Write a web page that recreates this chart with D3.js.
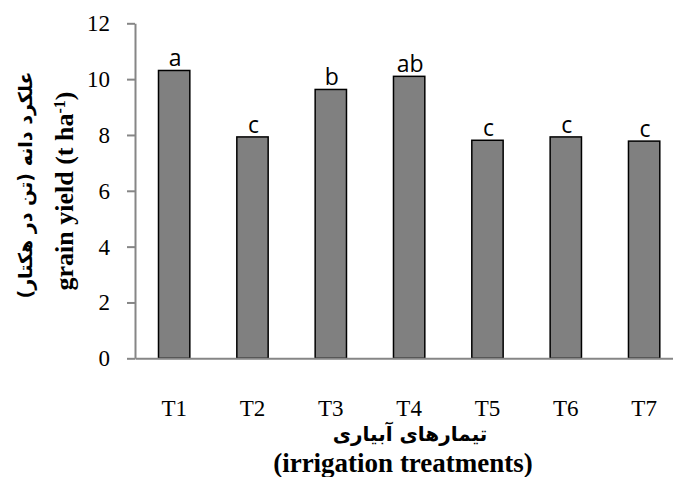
<!DOCTYPE html>
<html>
<head>
<meta charset="utf-8">
<script src="https://cdn.jsdelivr.net/npm/d3@7"></script>
<style>
  html, body { margin: 0; padding: 0; background: #fff; }
  svg { display: block; }
</style>
</head>
<body>
<svg id="chart" width="673" height="477"></svg>
<script>
// Grain yield per irrigation treatment (t/ha) with mean-separation letters
const treatments = ["T1", "T2", "T3", "T4", "T5", "T6", "T7"];
const grainYield = [10.31, 7.93, 9.63, 10.10, 7.81, 7.93, 7.78];
const groupLetters = ["a", "c", "b", "ab", "c", "c", "c"];
const yTicks = [0, 2, 4, 6, 8, 10, 12];

const svg = d3.select("#chart");
const W = 673, H = 477;

const x = d3.scaleBand()
  .domain(treatments)
  .range([135, 683.3])
  .paddingInner(0.6)
  .paddingOuter(0.3);

const y = d3.scaleLinear()
  .domain([0, 12])
  .range([358.3, 23.3]);

const axisGrey = "#868686";
const serif = "'Liberation Serif', 'Times New Roman', serif";

// y axis
const yAxis = svg.append("g")
  .attr("transform", "translate(135,0)")
  .call(d3.axisLeft(y).tickValues(yTicks).tickSize(8).tickSizeOuter(0).tickPadding(17)
    .tickFormat(d3.format("d")));
yAxis.selectAll("path, line").attr("stroke", axisGrey).attr("stroke-width", 2);
yAxis.selectAll("text")
  .attr("fill", "#000")
  .style("font-family", serif)
  .style("font-size", "23px");

// bars
svg.append("g").selectAll("rect")
  .data(treatments)
  .join("rect")
  .attr("x", d => x(d))
  .attr("width", x.bandwidth())
  .attr("y", (d, i) => y(grainYield[i]))
  .attr("height", (d, i) => y(0) - y(grainYield[i]))
  .attr("fill", "#808080")
  .attr("stroke", "#000")
  .attr("stroke-width", 1.5);

// x axis (drawn over the bar bases)
const xAxis = svg.append("g")
  .attr("transform", `translate(0,${y(0)})`)
  .call(d3.axisBottom(x).tickSize(0).tickSizeOuter(0).tickPadding(41));
xAxis.select("path.domain").attr("stroke", axisGrey).attr("stroke-width", 2);
xAxis.selectAll("text")
  .attr("fill", "#000")
  .style("font-family", serif)
  .style("font-size", "23px");

// significance letters above bars
svg.append("g").selectAll("text")
  .data(treatments)
  .join("text")
  .attr("x", d => x(d) + x.bandwidth() / 2 + 1)
  .attr("y", (d, i) => y(grainYield[i]) - 4)
  .attr("text-anchor", "middle")
  .style("font-family", "'Open Sans', 'Liberation Sans', sans-serif")
  .style("font-size", "23px")
  .attr("fill", "#000")
  .text((d, i) => groupLetters[i]);

// y axis titles (Persian and English)
svg.append("text")
  .attr("transform", "translate(32,185) rotate(-90)")
  .attr("text-anchor", "middle")
  .attr("direction", "rtl")
  .style("font-family", "'DejaVu Sans', sans-serif")
  .style("font-weight", "bold")
  .style("font-size", "19px")
  .text("علکرد دانه (تن در هکتار)");

const yTitle = svg.append("text")
  .attr("transform", "translate(73,191) rotate(-90)")
  .attr("text-anchor", "middle")
  .style("font-family", serif)
  .style("font-weight", "bold")
  .style("font-size", "26px");
yTitle.append("tspan").text("grain yield (t ha");
yTitle.append("tspan").attr("baseline-shift", "super").style("font-size", "16px").text("-1");
yTitle.append("tspan").text(")");

// x axis titles
svg.append("text")
  .attr("x", 410)
  .attr("y", 441)
  .attr("text-anchor", "middle")
  .attr("direction", "rtl")
  .style("font-family", "'DejaVu Sans', sans-serif")
  .style("font-weight", "bold")
  .style("font-size", "20px")
  .text("تیمارهای آبیاری");

svg.append("text")
  .attr("x", 403)
  .attr("y", 471.5)
  .attr("text-anchor", "middle")
  .style("font-family", serif)
  .style("font-weight", "bold")
  .style("font-size", "27px")
  .text("(irrigation treatments)");
</script>
</body>
</html>
